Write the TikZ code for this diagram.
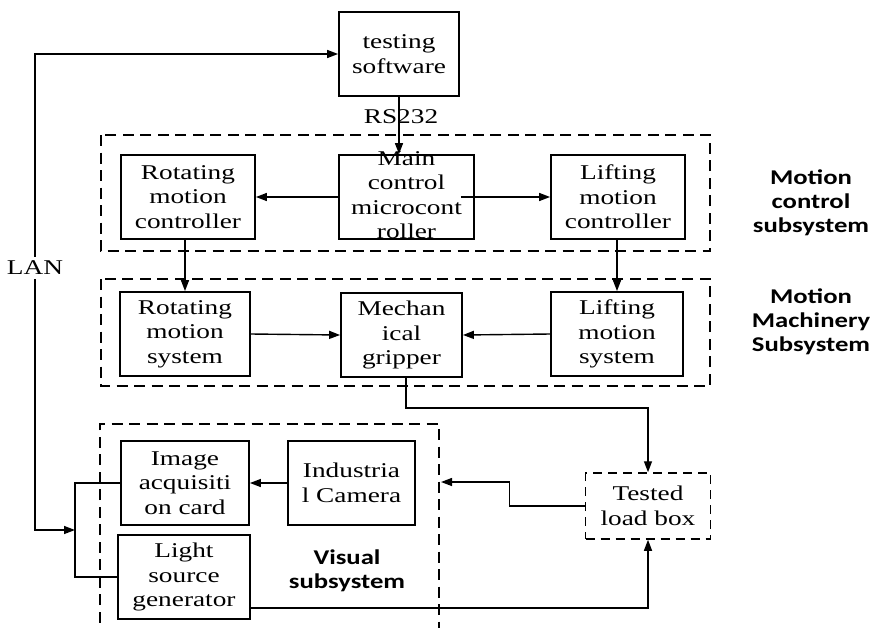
\documentclass[tikz,border=0pt]{standalone}
\usepackage{fontspec}
\usetikzlibrary{arrows.meta}
\newfontfamily\boxfont[FakeStretch=1.3]{Liberation Serif}
\newfontfamily\labfont[FakeStretch=1.27]{Carlito}
\begin{document}
\begin{tikzpicture}[x=1pt,y=-1pt,
  blk/.style={draw,line width=1.8pt,inner sep=0pt,align=center,
    font=\boxfont\fontsize{21}{24.5}\selectfont},
  txt/.style={inner sep=0pt,align=center,font=\boxfont\fontsize{21}{24.5}\selectfont},
  lab/.style={inner sep=0pt,align=center,font=\labfont\bfseries\fontsize{21}{24}\selectfont},
  grp/.style={line width=1.8pt,dash pattern=on 11pt off 6.5pt},
  con/.style={line width=1.4pt},
  arr/.style={con,-{Triangle[length=11pt,width=8pt]}},
  barr/.style={con,{Triangle[length=11pt,width=8pt]}-{Triangle[length=11pt,width=8pt]}}
]
\useasboundingbox (0,0) rectangle (873,627);
% groups
\draw[grp] (101,135) rectangle (710,251);
\draw[grp] (101,279) rectangle (710,386);
\draw[grp] (100,640) -- (100,424) -- (439,424) -- (439,640);
% blocks
\node[blk,minimum width=120pt,minimum height=84pt] (ts) at (399,54) {testing\\software};
\node[blk,minimum width=135pt,minimum height=84pt] (mc) at (406.5,197) {};
\node[txt] (mct) at (406.5,195) {Main\\control\\microcont\\roller};
\node[blk,minimum width=134pt,minimum height=84pt] (rc) at (188,197) {Rotating\\motion\\controller};
\node[blk,minimum width=134pt,minimum height=84pt] (lc) at (618,197) {Lifting\\motion\\controller};
\node[blk,minimum width=130pt,minimum height=84pt] (rs) at (185,334) {Rotating\\motion\\system};
\node[blk,minimum width=121pt,minimum height=84pt] (gr) at (401.5,335) {Mechan\\ical\\gripper};
\node[blk,minimum width=132pt,minimum height=84pt] (ls) at (617,334) {Lifting\\motion\\system};
\node[blk,minimum width=128pt,minimum height=84pt] (ia) at (185,483) {Image\\acquisiti\\on card};
\node[blk,minimum width=127pt,minimum height=84pt] (ic) at (351.5,483) {Industria\\l Camera};
\node[blk,minimum width=132pt,minimum height=84pt] (lg) at (184,577) {Light\\source\\generator};
\node[blk,dash pattern=on 9pt off 6pt,line width=1.5pt,minimum width=125pt,minimum height=66pt] (tl) at (648,506) {Tested\\load box};
\coordinate (lanE) at (75,530);
\coordinate (visE) at (441,482);
% labels
\node[txt] (rsl) at (401,117) {RS232};
\node[lab] (mcs) at (811,203) {Motion\\control\\subsystem};
\node[lab] (mms) at (811,322) {Motion\\Machinery\\Subsystem};
\node[lab] (vss) at (347,571) {Visual\\subsystem};
% connectors
\draw[barr] (lanE) -- ++(-40,0) |- (ts.west);
\node[txt,fill=white,inner xsep=3pt,inner ysep=4pt] (lan) at (35,268) {LAN};
\draw[con] (ia.west) -| (lanE) |- (lg.west);
\draw[arr] (ts.south) -- (ts.south |- mc.north);
\draw[arr] (mc.west) -- (rc.east);
\draw[arr] ([xshift=-14pt]mc.east) -- (lc.west);
\draw[arr] (rs.north |- rc.south) -- (rs.north);
\draw[arr] (ls.north |- lc.south) -- (ls.north);
\draw[arr] (rs.east) -- (gr.west);
\draw[arr] (ls.west) -- (gr.east);
\draw[arr] ([xshift=4.5pt]gr.south) -- ++(0,30) -| (tl.north);
\draw[arr] (tl.west) -- ++(-75,0) |- (visE);
\draw[arr] ([yshift=-31pt]lg.east) -| (tl.south);
\draw[arr] (ic.west) -- (ia.east);
\end{tikzpicture}
\end{document}
